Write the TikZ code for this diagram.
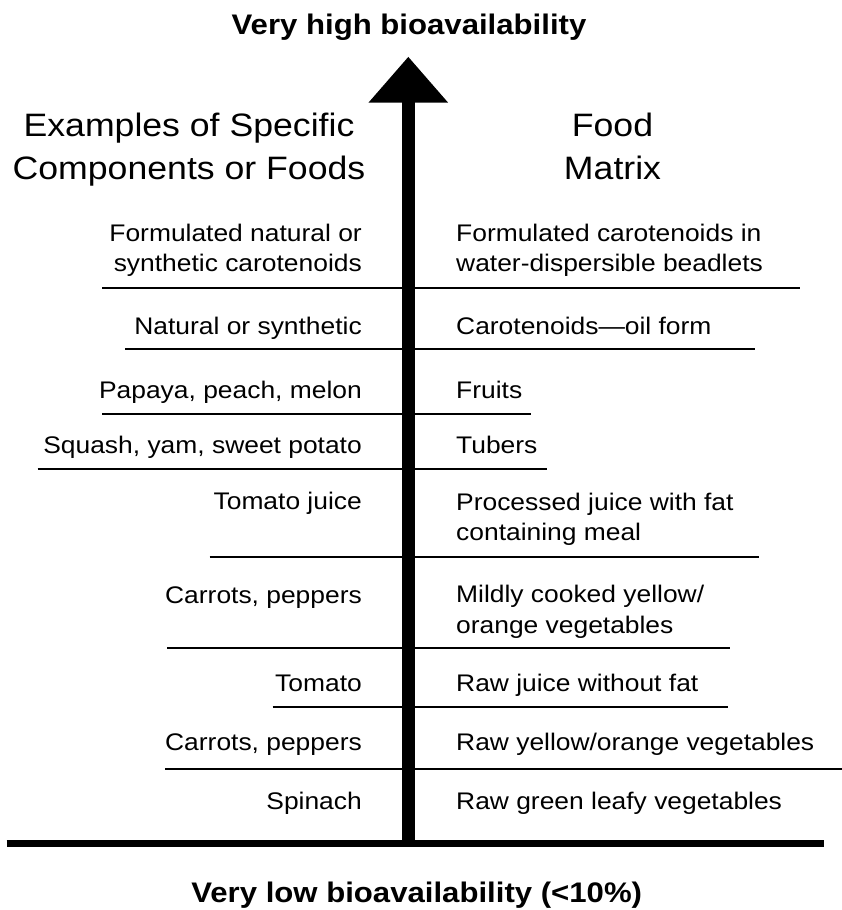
\documentclass[tikz,border=0pt]{standalone}
\usepackage{fontspec}
\setmainfont{Liberation Sans}[FakeStretch=1.1]
\usetikzlibrary{arrows.meta}

\begin{document}
\begin{tikzpicture}[x=1pt, y=-1pt,
  lft/.style={anchor=base east, align=right, inner sep=0pt,
              font=\fontsize{24}{30.5}\selectfont},
  rgt/.style={anchor=base west, align=left, inner sep=0pt,
              font=\fontsize{24}{30.5}\selectfont},
  head/.style={anchor=base, align=center, inner sep=0pt,
               font=\fontsize{32.4}{43}\selectfont},
  ttl/.style={anchor=base, inner sep=0pt, font=\bfseries\fontsize{28.3}{34}\selectfont},
  rule/.style={line width=1.8pt},
  axis/.style={line width=13.3pt, -{Triangle[length=46pt, width=76.7pt]}}
]
\useasboundingbox (0,0) rectangle (842,910);
\node[ttl] (hi) at (409,34) {Very high bioavailability};
\node[ttl] (lo) at (416.7,902) {Very low bioavailability (<10\%)};
\node[head] (exh) at (189,179) {Examples of Specific\\Components or Foods};
\node[head] (fmh) at (612.5,179) {Food\\Matrix};

\node[lft] (ex1) at (362,271.7) {Formulated natural or\\synthetic carotenoids};
\node[rgt] (fm1) at (456,271.7) {Formulated carotenoids in\\water-dispersible beadlets};
\node[lft] (ex2) at (362,334.3) {Natural or synthetic};
\node[rgt] (fm2) at (456,334.3) {Carotenoids—oil form};
\node[lft] (ex3) at (362,398.3) {Papaya, peach, melon};
\node[rgt] (fm3) at (456,398.3) {Fruits};
\node[lft] (ex4) at (362,453.3) {Squash, yam, sweet potato};
\node[rgt] (fm4) at (456,453.3) {Tubers};
\node[lft] (ex5) at (362,509.3) {Tomato juice};
\node[rgt] (fm5) at (456,540.7) {Processed juice with fat\\containing meal};
\node[lft] (ex6) at (362,603) {Carrots, peppers};
\node[rgt] (fm6) at (456,633.3) {Mildly cooked yellow/\\orange vegetables};
\node[lft] (ex7) at (362,691) {Tomato};
\node[rgt] (fm7) at (456,691) {Raw juice without fat};
\node[lft] (ex8) at (362,750.7) {Carrots, peppers};
\node[rgt] (fm8) at (456,750.7) {Raw yellow/orange vegetables};
\node[lft] (ex9) at (362,809) {Spinach};
\node[rgt] (fm9) at (456,809) {Raw green leafy vegetables};

\draw[rule] (102.2,288.3) -- (799.5,288.3);
\draw[rule] (125.3,349) -- (754.8,349);
\draw[rule] (102.2,413.7) -- (531.2,413.7);
\draw[rule] (37.6,469.3) -- (547.3,469.3);
\draw[rule] (209.7,556.7) -- (759.1,556.7);
\draw[rule] (167.2,648.3) -- (730.1,648.3);
\draw[rule] (272.6,706.7) -- (728,706.7);
\draw[rule] (165,769) -- (842,769);

\coordinate (base) at (408.3,843.5);
\coordinate (tip) at (408.3,56.7);
\draw[axis] (base) -- (tip);
\draw[line width=7.5pt] (6.5,843.5) -- (823.7,843.5);
\end{tikzpicture}
\end{document}
